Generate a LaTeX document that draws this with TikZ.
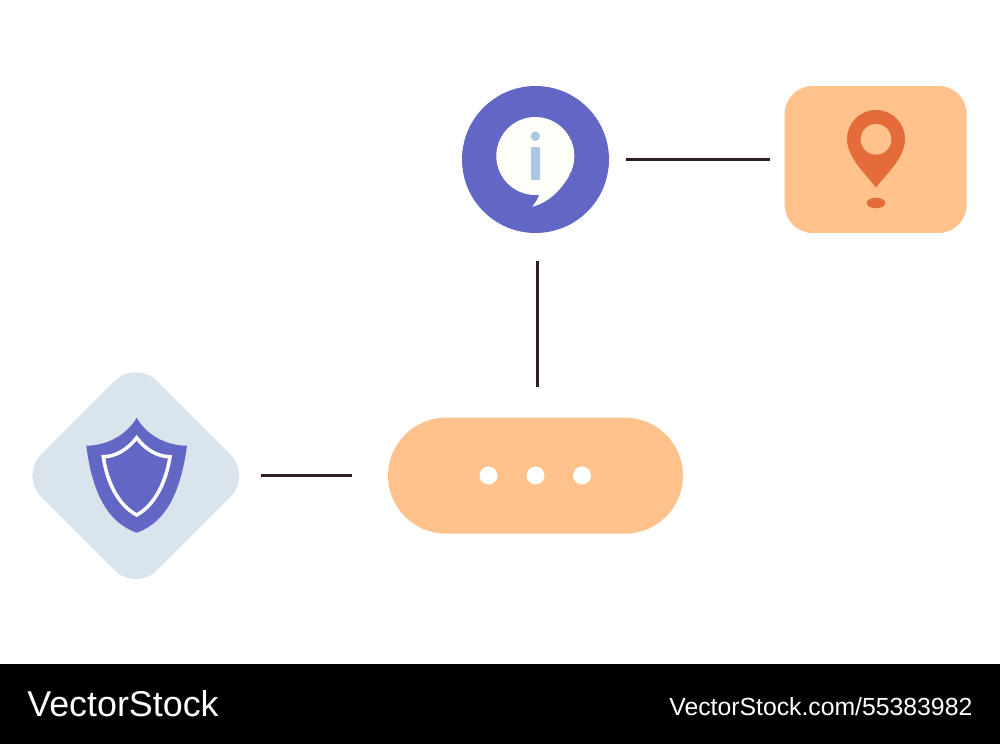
\documentclass[tikz,border=0pt]{standalone}
\usepackage{fontspec}
\setsansfont{Liberation Sans}
\usetikzlibrary{positioning, shapes.geometric}
\definecolor{iconblue}{RGB}{98, 102, 197}
\definecolor{peach}{RGB}{255, 194, 141}
\definecolor{pinred}{RGB}{228, 108, 58}
\definecolor{palegrey}{RGB}{218, 228, 237}
\definecolor{paleblue}{RGB}{169, 200, 227}
\definecolor{linkdark}{RGB}{46, 31, 31}

\begin{document}
\begin{tikzpicture}[
  x=0.02cm, y=-0.02cm,
  every node/.style={font=\sffamily, inner sep=0pt},
  infocircle/.style={circle, fill=iconblue, minimum size=2.94cm},
  pinbox/.style={rectangle, fill=peach, rounded corners=0.56cm, minimum width=3.64cm, minimum height=2.94cm},
  pillbox/.style={rectangle, fill=peach, rounded corners=1.16cm, minimum width=5.9cm, minimum height=2.32cm},
  shieldbox/.style={diamond, fill=palegrey, rounded corners=0.6cm, minimum width=4.64cm, minimum height=4.64cm, aspect=1},
  link/.style={draw=linkdark, line width=1.7pt},
  wmark/.style={text=white, anchor=base west}
]

\useasboundingbox (0,0) rectangle (1000,744);
\fill[black] (0,664) rectangle (1000,744);

\node[infocircle] (info) at (535.5,159.5) {};
\node[pinbox, right=3.5cm of info] (pinnode) {};
\node[pillbox, below=3.68cm of info] (pill) {};
\node[shieldbox, left=2.71cm of pill] (shield) {};

\draw[link, shorten <=0.34cm, shorten >=0.28cm] (info) -- (pinnode);
\draw[link, shorten <=0.56cm, shorten >=0.6cm] ([xshift=0.04cm]info.south) -- ([xshift=0.04cm]pill.north);
\draw[link, shorten <=0.17cm, shorten >=0.72cm] (shield) -- (pill);

% speech bubble
\fill[white!98!yellow] (535.3,156) circle (39);
\fill[white!98!yellow] (520,190) -- (539.3,194.3) .. controls (538,199) and (535,203) .. (532.3,206.7)
  .. controls (548,203) and (561,190) .. (569,176) -- cycle;
\fill[paleblue] (535.3,136.3) circle (4.7);
\fill[paleblue, rounded corners=0.02cm] (531,147) rectangle (540,180);

% map pin
\fill[pinred] (847,139) .. controls (847,123) and (860,110) .. (876,110)
  .. controls (892,110) and (905,123) .. (905,139)
  .. controls (905,158) and (886,174) .. (876,187.7)
  .. controls (866,174) and (847,158) .. (847,139) -- cycle;
\fill[peach] (876,139.3) circle (15.3);
\fill[pinred] (876,203) ellipse (9.3 and 5.3);

% three dots
\foreach \dotx in {488.5,535.5,582}
  \fill[white] (\dotx,475.5) circle (9);

% shield
\fill[iconblue] (136.7,417.7) .. controls (128,433) and (109,445.7) .. (86.3,445.7)
  .. controls (92,490) and (106,522) .. (136.7,532.7)
  .. controls (167,522) and (181,490) .. (187,445.7)
  .. controls (164,445.7) and (145,433) .. (136.7,417.7) -- cycle;
\draw[white, line width=2pt, miter limit=4] (136.7,437.7) .. controls (128,449) and (116,456.7) .. (103.3,456.7)
  .. controls (107,482) and (118,505) .. (136.7,515)
  .. controls (155,505) and (166,482) .. (170,456.7)
  .. controls (157,456.7) and (145,449) .. (136.7,437.7) -- cycle;

\node[wmark, font=\sffamily\fontsize{20.4}{24}\selectfont] (logo) at (27,716) {VectorStock};
\node[wmark, font=\sffamily\fontsize{14.1}{17}\selectfont] (stockid) at (669,715) {VectorStock.com/55383982};

\end{tikzpicture}
\end{document}
